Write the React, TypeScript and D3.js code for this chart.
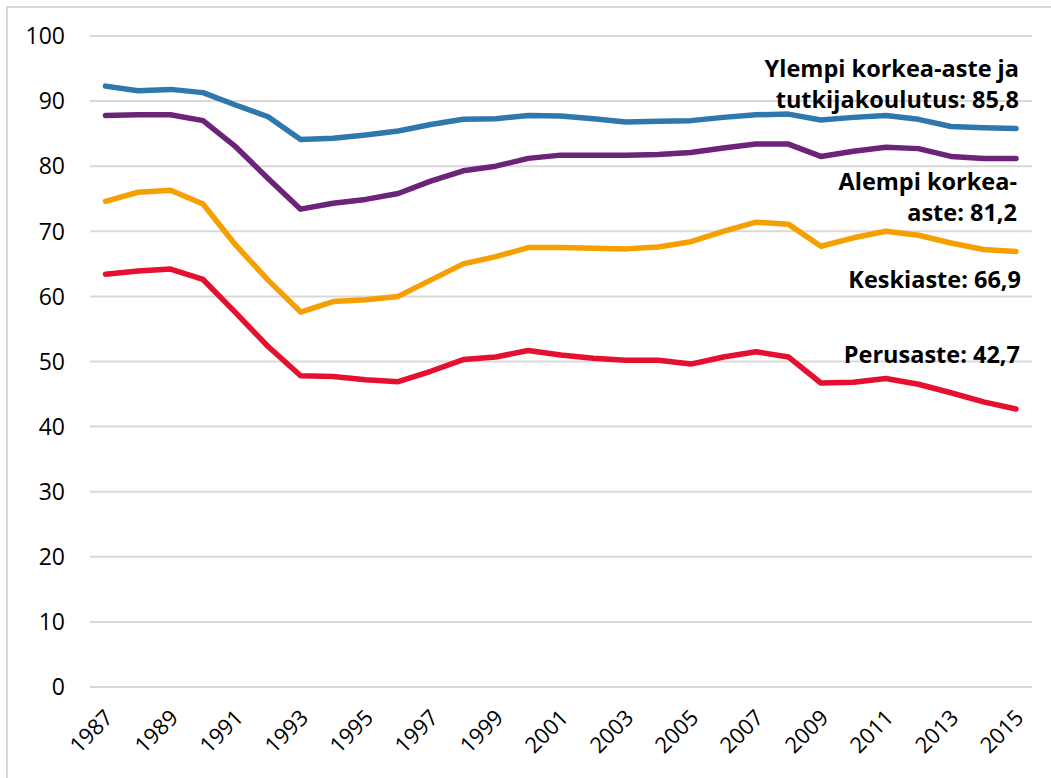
import React from "react";
import * as d3 from "d3";

const years = d3.range(1987, 2016);
const yTicks = [0, 10, 20, 30, 40, 50, 60, 70, 80, 90, 100];
const xTickYears = [1987, 1989, 1991, 1993, 1995, 1997, 1999, 2001, 2003, 2005, 2007, 2009, 2011, 2013, 2015];

const ylempi = [92.3, 91.6, 91.8, 91.3, 89.4, 87.6, 84.1, 84.3, 84.8, 85.4, 86.4, 87.2, 87.3, 87.8, 87.7, 87.3, 86.8, 86.9, 87.0, 87.5, 87.9, 88.0, 87.1, 87.5, 87.8, 87.2, 86.1, 85.9, 85.8];
const alempi = [87.8, 87.9, 87.9, 87.0, 83.0, 78.1, 73.4, 74.3, 74.9, 75.8, 77.7, 79.3, 80.0, 81.2, 81.7, 81.7, 81.7, 81.8, 82.1, 82.8, 83.4, 83.4, 81.5, 82.3, 82.9, 82.7, 81.5, 81.2, 81.2];
const keskiaste = [74.6, 76.0, 76.3, 74.2, 67.9, 62.5, 57.6, 59.2, 59.5, 60.0, 62.5, 65.0, 66.1, 67.5, 67.5, 67.4, 67.3, 67.6, 68.4, 70.0, 71.4, 71.1, 67.7, 69.0, 70.0, 69.4, 68.2, 67.2, 66.9];
const perusaste = [63.4, 63.9, 64.2, 62.6, 57.5, 52.3, 47.8, 47.7, 47.2, 46.9, 48.5, 50.3, 50.7, 51.7, 51.0, 50.5, 50.2, 50.2, 49.6, 50.7, 51.5, 50.7, 46.7, 46.8, 47.4, 46.5, 45.2, 43.8, 42.7];

const seriesNames = ["Ylempi", "Alempi", "Keskiaste", "Perusaste"];
const seriesColors = ["#2e78ae", "#6c2479", "#f5a000", "#e5102f"];
const seriesValues = [ylempi, alempi, keskiaste, perusaste];

const labelLines = [
  ["Ylempi korkea-aste ja", "tutkijakoulutus: 85,8"],
  ["Alempi korkea-", "aste: 81,2"],
  ["Keskiaste: 66,9"],
  ["Perusaste: 42,7"],
];
const labelAnchors = [
  { x: 1019, y: 77, dy: 31 },
  { x: 1017, y: 190, dy: 31 },
  { x: 1021, y: 288, dy: 31 },
  { x: 1020, y: 363, dy: 31 },
];

export default function App() {
  const W = 1051, H = 778;
  const x = d3.scaleLinear().domain([1987, 2015]).range([105.5, 1016]);
  const y = d3.scaleLinear().domain([0, 100]).range([687, 36]);
  const line = d3.line<number>().x((_, i) => x(years[i])).y((d) => y(d)).curve(d3.curveLinear);
  const font = "'Open Sans', 'Noto Sans', sans-serif";

  return (
    <svg width={W} height={H} style={{ position: "absolute", left: 0, top: 0, fontFamily: font }}>
      <rect x={0} y={0} width={W} height={H} fill="#fff" />
      <rect x={7} y={7} width={W + 10} height={H + 10} fill="none" stroke="#d9d9d9" strokeWidth={2} />
      {yTicks.map((t) => (
        <g key={t}>
          <line x1={90} x2={1032} y1={y(t)} y2={y(t)} stroke="#d9d9d9" strokeWidth={2} />
          <text x={65} y={y(t)} dy="0.36em" textAnchor="end" fontSize={23} fill="#000">{t}</text>
        </g>
      ))}
      {xTickYears.map((yr) => (
        <text key={yr} transform={`translate(${x(yr) + 9},${719}) rotate(-45)`} textAnchor="end" fontSize={22} fill="#000">{yr}</text>
      ))}
      {seriesValues.map((vals, i) => (
        <path key={seriesNames[i]} d={line(vals) || ""} fill="none" stroke={seriesColors[i]} strokeWidth={5.5} strokeLinejoin="round" strokeLinecap="round" />
      ))}
      {labelLines.map((lines, i) => (
        <text key={i} textAnchor="end" fontSize={23.5} fontWeight="bold" fill="#000">
          {lines.map((l, j) => (
            <tspan key={j} x={labelAnchors[i].x} y={labelAnchors[i].y + j * labelAnchors[i].dy}>{l}</tspan>
          ))}
        </text>
      ))}
    </svg>
  );
}
